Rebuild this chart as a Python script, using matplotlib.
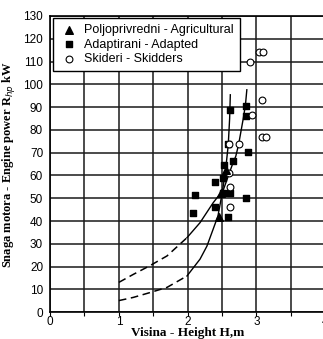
import numpy as np
import matplotlib
matplotlib.use("Agg")
import matplotlib.pyplot as plt

# points
agri_x = [2.45, 2.48, 2.55]
agri_y = [41.6, 52.5, 62.5]

adapt_x = [2.61, 2.85, 2.85, 2.59, 2.87, 2.66, 2.53, 2.52, 2.40, 2.52, 2.62, 2.10, 2.85, 2.40, 2.08, 2.59]
adapt_y = [88.8, 90.6, 86.2, 74.0, 70.5, 66.5, 64.5, 59.0, 57.3, 52.5, 52.5, 51.6, 50.0, 46.0, 43.5, 41.6]

skid_x = [3.03, 3.10, 2.91, 3.08, 2.94, 3.08, 3.14, 2.60, 2.74, 2.60, 2.62, 2.61]
skid_y = [114, 114, 110, 93, 86.5, 77, 77, 74, 74, 61, 55, 46]

# fitted curves (upper one starts at 13 kW, lower one at 5 kW)
up_x = [1.0, 1.21, 1.45, 1.70, 1.99, 2.18, 2.37, 2.52, 2.65, 2.70, 2.74, 2.81, 2.84, 2.86]
up_y = [13.1, 16.6, 20.4, 24.7, 32.7, 39.3, 48.0, 53.8, 64.8, 68.5, 73.5, 85.3, 91.0, 97.6]
lo_x = [1.0, 1.21, 1.45, 1.70, 1.99, 2.18, 2.28, 2.37, 2.44, 2.50, 2.55, 2.59, 2.61, 2.62]
lo_y = [5.1, 6.5, 8.6, 10.9, 15.9, 23.3, 29.0, 36.4, 42.2, 52.0, 62.0, 73.5, 85.0, 95.4]
n_dash = 5  # first points are drawn dashed (extrapolation)

plt.rcParams['font.family'] = ['Liberation Sans', 'DejaVu Sans']

fig = plt.figure(figsize=(3.23, 3.39), dpi=100)
ax = fig.add_axes([0.155, 0.079, 0.852, 0.874])

for cx, cy in [(up_x, up_y), (lo_x, lo_y)]:
    ax.plot(cx[:n_dash], cy[:n_dash], color='black', lw=1.1, ls=(0, (5, 3)), zorder=3)
    ax.plot(cx[n_dash - 1:], cy[n_dash - 1:], color='black', lw=1.0, zorder=3)

ax.scatter(adapt_x, adapt_y, marker='s', s=20, color='black', zorder=4,
           label='Adaptirani - Adapted')
ax.scatter(skid_x, skid_y, marker='o', s=24, facecolors='white', edgecolors='black',
           linewidths=0.8, zorder=5, label='Skideri - Skidders')
ax.scatter(agri_x, agri_y, marker='^', s=30, color='black', zorder=6,
           label='Poljoprivredni - Agricultural')

ax.set_xlim(0, 4)
ax.set_ylim(0, 130)
ax.set_xticks(np.arange(0, 4.01, 0.5))
ax.set_xticklabels(['0', '', '1', '', '2', '', '3', '', '4'])
ax.set_yticks(np.arange(0, 131, 10))
ax.grid(True, color='#1a1a1a', lw=1.1)
ax.set_axisbelow(True)
ax.tick_params(axis='x', length=3, width=0.8, labelsize=8.5, pad=0)
ax.tick_params(axis='y', length=0, labelsize=8.5, pad=5)
ax.spines['right'].set_visible(False)
for s in ['left', 'bottom', 'top']:
    ax.spines[s].set_linewidth(1.2)

serif = {'family': 'Liberation Serif', 'weight': 'bold'}
ax.set_xlabel('Visina - Height H,m', fontdict=dict(serif, size=9.5))
ax.xaxis.set_label_coords(0.5, -0.05)
ax.set_ylabel('Snaga motora - Engine power R$_{hp}$ kW', fontdict=dict(serif, size=9))
ax.yaxis.set_label_coords(-0.12, 0.5)

h, l = ax.get_legend_handles_labels()
order = [2, 0, 1]
leg = ax.legend([h[i] for i in order], [l[i] for i in order], loc='upper left',
                bbox_to_anchor=(0.005, 0.998), fontsize=9, frameon=True, fancybox=False,
                edgecolor='black', framealpha=1, borderpad=0.5, handletextpad=0.4,
                labelspacing=0.2, borderaxespad=0.1, handlelength=1.6)
leg.get_frame().set_linewidth(1.0)

fig.savefig('out.png', dpi=100)
